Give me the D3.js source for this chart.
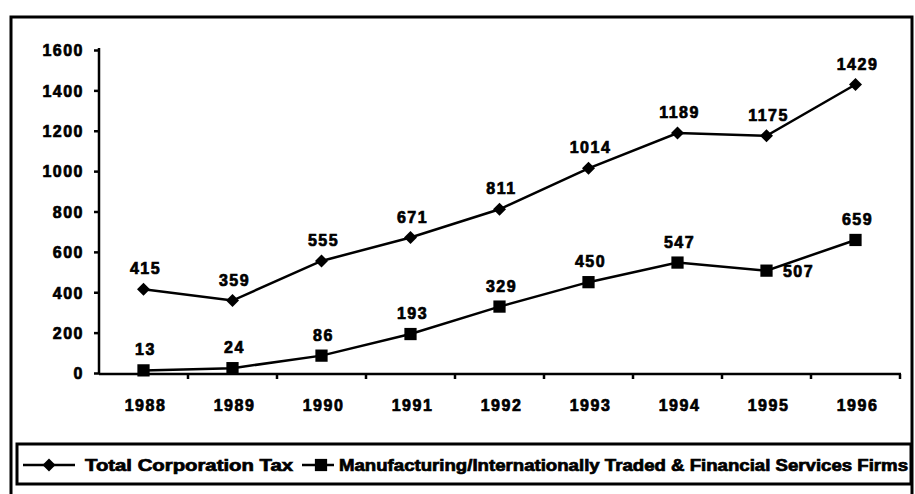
<!DOCTYPE html>
<html>
<head>
<meta charset="utf-8">
<script src="https://cdn.jsdelivr.net/npm/d3@7"></script>
<style>
  html, body { margin: 0; padding: 0; background: #fff; }
  svg text { font-family: "Liberation Sans", Arial, sans-serif; font-weight: bold; fill: #000; }
</style>
</head>
<body>
<svg id="chart" width="915" height="494"></svg>
<script>
// Years on the category axis
const years = ["1988", "1989", "1990", "1991", "1992", "1993", "1994", "1995", "1996"];
// Corporation tax receipts
const totalTax = [415, 359, 555, 671, 811, 1014, 1189, 1175, 1429];
const manufacturing = [13, 24, 86, 193, 329, 450, 547, 507, 659];
// Value-axis ticks
const yTicks = [0, 200, 400, 600, 800, 1000, 1200, 1400, 1600];
// Series names for the legend
const seriesNames = ["Total Corporation Tax", "Manufacturing/Internationally Traded & Financial Services Firms"];
// Where each value label sits relative to its marker
const manufLabelSide = ["above", "above", "above", "above", "above", "above", "above", "right", "above"];

const svg = d3.select("#chart");

// outer frame
svg.append("rect")
  .attr("x", 11).attr("y", 17).attr("width", 901).attr("height", 490)
  .attr("fill", "none").attr("stroke", "#000").attr("stroke-width", 3);

const x = d3.scaleBand().domain(years).range([99, 900]).paddingInner(0).paddingOuter(0);
const y = d3.scaleLinear().domain([0, 1600]).range([373, 50]);

const cx = d => x(d) + x.bandwidth() / 2;

// square diamond marker (a square turned 45 degrees)
const diamondPath = d3.symbol().type(d3.symbolSquare).size(85)();
const squarePath = d3.symbol().type(d3.symbolSquare).size(150)();

const textStyle = sel => sel
  .style("font-size", "16px").style("letter-spacing", "1.5px")
  .attr("stroke", "#000").attr("stroke-width", 0.7);

// y axis
const yAxis = svg.append("g").attr("transform", "translate(99,0)")
  .call(d3.axisLeft(y).tickValues(yTicks).tickSize(5).tickPadding(10).tickFormat(d3.format("d")));
yAxis.select(".domain").attr("stroke-width", 2.5).attr("d", `M-0,${y(1600) - 2}V${y(0)}`);
yAxis.selectAll(".tick line").attr("stroke-width", 2.5);
yAxis.selectAll(".tick text").call(textStyle).attr("dy", "0.36em");

// x axis with ticks between categories
const xAxisG = svg.append("g").attr("transform", `translate(0,${y(0) + 1})`);
xAxisG.append("line")
  .attr("x1", 99).attr("x2", 901).attr("y1", 0).attr("y2", 0)
  .attr("stroke", "#000").attr("stroke-width", 2.5);
xAxisG.selectAll("line.tk").data(years).enter().append("line")
  .attr("class", "tk")
  .attr("x1", d => x(d) + x.bandwidth()).attr("x2", d => x(d) + x.bandwidth())
  .attr("y1", 0).attr("y2", 5)
  .attr("stroke", "#000").attr("stroke-width", 2.5);
xAxisG.selectAll("text").data(years).enter().append("text")
  .attr("x", d => cx(d) + 2).attr("y", 37)
  .attr("text-anchor", "middle")
  .call(textStyle)
  .text(d => d);

const line = d3.line().x((d, i) => cx(years[i])).y(d => y(d));

function drawSeries(values, shape, placements) {
  const g = svg.append("g");
  g.append("path").datum(values)
    .attr("d", line).attr("fill", "none")
    .attr("stroke", "#000").attr("stroke-width", 2.5);
  g.selectAll("path.m").data(values).enter().append("path")
    .attr("class", "m")
    .attr("d", shape === "diamond" ? diamondPath : squarePath)
    .attr("transform", (d, i) => `translate(${cx(years[i])},${y(d)})` + (shape === "diamond" ? " rotate(45)" : ""))
    .attr("fill", "#000");
  g.selectAll("text").data(values).enter().append("text")
    .attr("x", (d, i) => placements[i] === "right" ? cx(years[i]) + 32 : cx(years[i]) + 2)
    .attr("y", (d, i) => placements[i] === "right" ? y(d) + 6 : y(d) - 15)
    .attr("text-anchor", "middle")
    .call(textStyle)
    .text(d => d);
}

drawSeries(totalTax, "diamond", years.map(() => "above"));
drawSeries(manufacturing, "square", manufLabelSide);

// legend
const lg = svg.append("g");
lg.append("rect")
  .attr("x", 17).attr("y", 444).attr("width", 894).attr("height", 40)
  .attr("fill", "#fff").attr("stroke", "#000").attr("stroke-width", 3);
const legendY = 465;
lg.append("line").attr("x1", 23).attr("x2", 75).attr("y1", legendY).attr("y2", legendY)
  .attr("stroke", "#000").attr("stroke-width", 2.5);
lg.append("path").attr("d", diamondPath)
  .attr("transform", `translate(49,${legendY}) rotate(45)`).attr("fill", "#000");
lg.append("text").attr("x", 85).attr("y", legendY + 6)
  .attr("textLength", 208).attr("lengthAdjust", "spacingAndGlyphs")
  .style("font-size", "16px").attr("stroke", "#000").attr("stroke-width", 0.7)
  .text(seriesNames[0]);
lg.append("line").attr("x1", 302).attr("x2", 334).attr("y1", legendY).attr("y2", legendY)
  .attr("stroke", "#000").attr("stroke-width", 2.5);
lg.append("path").attr("d", squarePath)
  .attr("transform", `translate(321,${legendY})`).attr("fill", "#000");
lg.append("text").attr("x", 339).attr("y", legendY + 6)
  .attr("textLength", 569).attr("lengthAdjust", "spacingAndGlyphs")
  .style("font-size", "16px").attr("stroke", "#000").attr("stroke-width", 0.7)
  .text(seriesNames[1]);
</script>
</body>
</html>
